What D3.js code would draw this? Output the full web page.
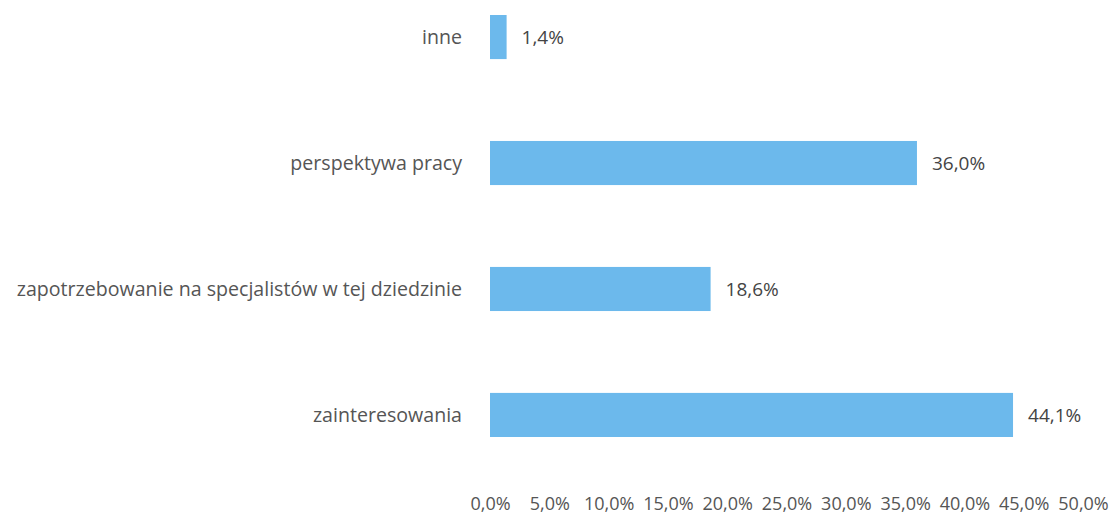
<!DOCTYPE html>
<html><head><meta charset="utf-8">
<script src="https://cdn.jsdelivr.net/npm/d3@7"></script>
<style>body{margin:0;background:#fff}svg{display:block}</style>
</head><body>
<svg id="c" width="1110" height="517"></svg>
<script>
const categories = ["inne","perspektywa pracy","zapotrzebowanie na specjalistów w tej dziedzinie","zainteresowania"];
const values = [1.4, 36.0, 18.6, 44.1];
const ticks = [0,5,10,15,20,25,30,35,40,45,50];

const svg = d3.select("#c");
const x = d3.scaleLinear().domain([0,50]).range([490,1083]);
const y = d3.scaleBand().domain(categories).range([15,437]).paddingInner(0.65).paddingOuter(0);
const fmt = v => v.toFixed(1).replace(".", ",") + "%";
const font = "'Open Sans', sans-serif";

svg.selectAll("rect.bar").data(categories).join("rect")
  .attr("class","bar")
  .attr("x", x(0)).attr("y", d=>y(d))
  .attr("width", (d,i)=>x(values[i])-x(0))
  .attr("height", y.bandwidth())
  .attr("fill","#6cb9ec");

svg.selectAll("text.val").data(categories).join("text")
  .attr("class","val")
  .attr("x",(d,i)=>x(values[i])+15).attr("y", d=>y(d)+y.bandwidth()/2)
  .attr("dy","0.35em")
  .attr("font-family",font).attr("font-size",19).attr("fill","#444")
  .text((d,i)=>fmt(values[i]));

svg.selectAll("text.cat").data(categories).join("text")
  .attr("class","cat")
  .attr("x",462).attr("y", d=>y(d)+y.bandwidth()/2)
  .attr("dy","0.35em").attr("text-anchor","end")
  .attr("font-family",font).attr("font-size",19.6).attr("fill","#555")
  .text(d=>d);

const ax = d3.axisBottom(x).tickValues(ticks).tickFormat(fmt).tickSize(0).tickPadding(0);
const g = svg.append("g").attr("transform","translate(0,497)").call(ax);
g.select(".domain").remove();
g.selectAll("text").attr("font-family",font).attr("font-size",18).attr("fill","#555");
</script>
</body></html>
